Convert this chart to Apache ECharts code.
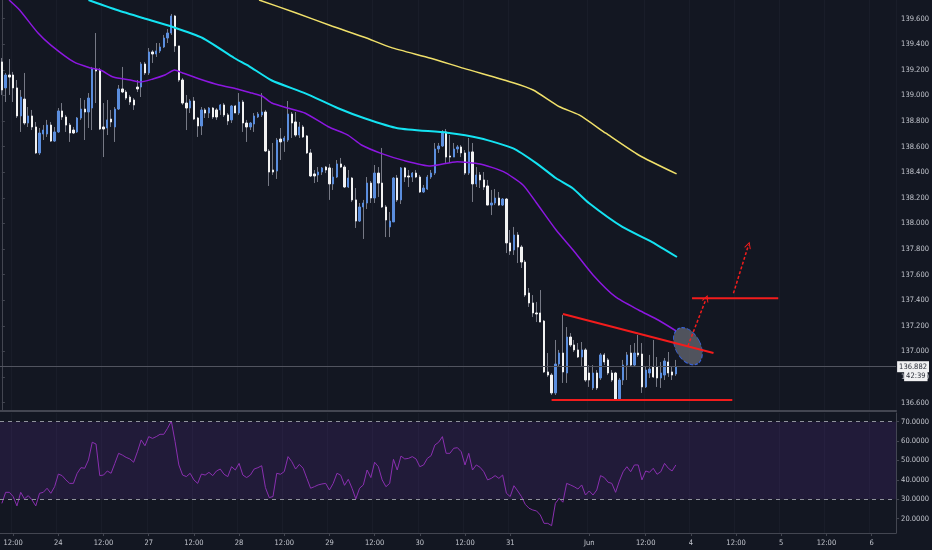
<!DOCTYPE html>
<html><head><meta charset="utf-8">
<script src="https://cdn.jsdelivr.net/npm/echarts@6/dist/echarts.min.js"></script>
<style>html,body{margin:0;padding:0;background:#131722;}#c{width:932px;height:550px;}</style>
</head><body><div id="c"></div><script>
// ---- data ----
// hourly candles [open, close, low, high]
const candles = [
[139.261,139.042,139.003,139.292],[139.058,139.159,138.948,139.175],[139.159,139.143,139.003,139.284],[139.159,139.058,138.948,139.183],[139.058,138.839,138.823,139.120],
[138.839,138.987,138.714,139.042],[138.971,138.784,138.768,139.175],[138.784,138.839,138.753,138.909],[138.839,138.753,138.729,138.886],[138.753,138.550,138.542,138.792],
[138.550,138.706,138.534,138.745],[138.698,138.729,138.651,138.768],[138.698,138.768,138.675,138.808],[138.768,138.643,138.636,138.792],[138.643,138.714,138.636,138.753],
[138.714,138.878,138.706,138.901],[138.878,138.831,138.808,138.940],[138.831,138.768,138.714,138.847],[138.768,138.706,138.636,138.784],[138.729,138.706,138.698,138.753],
[138.714,138.823,138.706,138.831],[138.823,138.893,138.808,138.979],[138.893,138.870,138.651,138.964],[138.870,138.979,138.745,139.018],[138.901,139.206,138.729,139.222],
[139.206,139.190,138.940,139.487],[139.198,138.737,138.729,139.214],[138.753,138.737,138.518,138.940],[138.745,138.808,138.690,138.964],[138.815,138.792,138.753,138.886],
[138.753,138.893,138.636,138.909],[138.893,139.050,138.886,139.081],[139.050,139.026,139.018,139.222],[139.026,138.979,138.964,139.042],[138.987,138.948,138.925,139.003],
[138.964,138.925,138.886,138.979],[139.065,139.050,139.026,139.120],[139.065,139.245,138.987,139.261],[139.245,139.175,139.159,139.261],[139.175,139.339,139.159,139.370],
[139.339,139.323,139.253,139.354],[139.323,139.347,139.300,139.409],[139.347,139.378,139.331,139.409],[139.378,139.448,139.370,139.472],[139.448,139.487,139.409,139.518],
[139.487,139.620,139.472,139.636],[139.620,139.386,139.339,139.628],[139.386,139.120,139.105,139.386],[139.120,138.940,138.925,139.136],[138.940,138.901,138.729,139.003],
[138.901,138.956,138.862,138.971],[138.956,138.815,138.808,138.987],[138.823,138.761,138.675,138.831],[138.761,138.886,138.690,138.909],[138.886,138.862,138.823,138.901],
[138.862,138.901,138.823,138.909],[138.901,138.831,138.815,138.909],[138.886,138.831,138.808,138.901],[138.886,138.925,138.847,138.932],[138.925,138.847,138.831,138.940],
[138.847,138.800,138.768,138.862],[138.808,138.917,138.784,138.925],[138.917,138.862,138.862,138.925],[138.862,138.948,138.847,139.018],[138.948,138.784,138.714,138.964],
[138.784,138.753,138.636,138.808],[138.753,138.784,138.729,138.792],[138.776,138.839,138.714,138.862],[138.831,138.854,138.823,138.870],[138.847,138.870,138.831,139.018],
[138.870,138.565,138.558,138.886],[138.565,138.401,138.292,138.581],[138.417,138.401,138.378,138.628],[138.409,138.651,138.347,138.667],[138.659,138.636,138.495,138.745],
[138.643,138.667,138.558,138.683],[138.651,138.854,138.636,138.956],[138.854,138.784,138.667,138.870],[138.792,138.690,138.675,138.870],[138.690,138.753,138.667,138.792],
[138.753,138.675,138.667,138.768],[138.683,138.550,138.542,138.690],[138.550,138.370,138.362,138.581],[138.386,138.370,138.315,138.417],[138.378,138.401,138.323,138.440],
[138.401,138.433,138.378,138.440],[138.440,138.417,138.393,138.448],[138.433,138.308,138.183,138.464],[138.308,138.362,138.261,138.433],[138.362,138.464,138.354,138.495],
[138.464,138.440,138.433,138.511],[138.440,138.284,138.276,138.456],[138.284,138.354,138.276,138.417],[138.354,138.183,138.167,138.362],[138.183,138.018,137.964,138.276],
[138.018,138.128,138.011,138.159],[138.128,138.159,137.878,138.183],[138.159,138.315,138.112,138.362],[138.315,138.198,138.159,138.331],[138.198,138.393,138.159,138.456],
[138.393,138.315,138.206,138.440],[138.315,138.128,138.120,138.589],[138.128,138.026,137.893,138.143],[137.972,138.018,137.893,138.089],[138.011,138.354,138.011,138.362],
[138.354,138.183,138.167,138.378],[138.183,138.433,138.151,138.440],[138.433,138.362,138.323,138.440],[138.370,138.362,138.284,138.417],[138.362,138.393,138.323,138.401],
[138.393,138.362,138.354,138.417],[138.362,138.245,138.237,138.378],[138.245,138.276,138.237,138.300],[138.268,138.362,138.261,138.378],[138.362,138.393,138.347,138.417],
[138.393,138.581,138.378,138.628],[138.581,138.604,138.550,138.628],[138.604,138.714,138.597,138.729],[138.714,138.518,138.472,138.737],[138.526,138.518,138.472,138.690],
[138.518,138.581,138.518,138.628],[138.581,138.597,138.550,138.612],[138.597,138.550,138.518,138.612],[138.550,138.393,138.378,138.573],[138.393,138.558,138.378,138.667],
[138.558,138.308,138.167,138.628],[138.308,138.378,138.284,138.440],[138.378,138.339,138.276,138.401],[138.339,138.284,138.261,138.401],[138.292,138.143,138.143,138.339],
[138.143,138.159,138.065,138.261],[138.159,138.198,138.143,138.268],[138.198,138.143,138.136,138.245],[138.143,138.190,138.136,138.198],[138.190,137.847,137.768,138.198],
[137.847,137.784,137.753,137.948],[137.792,137.909,137.753,137.972],[137.909,137.815,137.690,137.932],[137.815,137.698,137.651,137.831],[137.698,137.440,137.425,137.714],
[137.456,137.378,137.347,137.495],[137.378,137.300,137.268,137.440],[137.300,137.292,137.229,137.386],[137.300,137.229,137.229,137.479],[137.237,136.839,136.831,137.245],
[136.839,136.815,136.800,136.987],[136.815,136.675,136.659,136.831],[136.675,136.901,136.659,137.089],[136.901,136.987,136.878,137.011],[136.987,136.839,136.753,137.284],
[136.831,137.112,136.753,137.190],[137.112,137.050,137.034,137.143],[137.050,137.011,136.995,137.089],[137.011,136.956,136.948,137.065],[136.956,137.011,136.878,137.073],
[137.011,136.776,136.761,137.026],[136.831,136.776,136.722,136.893],[136.714,136.831,136.698,136.893],[136.831,136.714,136.698,136.854],[136.792,136.972,136.776,136.987],
[136.972,136.917,136.893,136.987],[136.933,136.831,136.815,136.948],[136.831,136.776,136.761,136.854],[136.831,136.628,136.620,136.839],[136.628,136.776,136.620,136.792],
[136.776,136.893,136.737,136.933],[136.893,136.972,136.776,136.995],[136.987,136.893,136.878,137.050],[136.893,136.987,136.878,137.065],[136.987,136.972,136.956,137.128],
[136.979,136.722,136.675,137.065],[136.722,136.854,136.714,136.878],[136.831,136.862,136.792,136.972],[136.878,136.800,136.792,137.089],[136.878,136.792,136.722,136.956],
[136.792,136.831,136.714,136.917],[136.815,136.925,136.776,136.948],[136.917,136.831,136.800,136.995],[136.839,136.815,136.776,136.878],[136.823,136.882,136.808,136.933]
];
// RSI, one value per candle
const rsi = [
27.9,33.6,33.6,31.4,26.6,33.6,30.2,31.9,29.7,26.6,
33.1,33.6,35.7,33.1,36.5,43.0,42.2,40.0,38.2,38.2,
43.4,46.3,46.0,50.3,59.4,58.5,42.2,42.5,44.6,43.4,
48.5,53.7,52.8,51.6,50.8,49.1,54.5,60.6,57.6,62.3,
61.4,62.3,63.5,63.5,66.6,70.3,59.7,47.7,42.5,41.7,
43.4,40.0,38.2,43.0,42.5,43.9,42.2,44.6,45.6,42.9,
41.7,46.8,45.1,48.5,42.5,41.2,42.5,45.6,46.3,47.3,
36.0,30.9,31.4,43.4,42.9,44.3,52.0,49.4,45.6,48.0,
46.0,40.8,35.7,36.5,37.4,37.9,38.2,34.8,38.2,43.4,
42.4,37.2,40.3,35.7,30.2,35.7,37.4,45.1,41.2,49.1,
46.8,40.0,36.5,38.2,50.6,45.1,52.3,50.8,51.1,52.0,
50.8,46.8,47.7,51.1,52.5,58.0,59.4,62.3,53.7,53.7,
56.3,56.6,54.5,47.7,53.7,45.1,47.7,46.5,44.2,40.0,
40.8,42.2,40.8,42.5,33.1,31.4,37.0,34.3,31.4,27.4,
25.4,24.5,24.0,21.9,17.6,17.6,16.4,27.9,30.5,28.5,
38.2,37.4,36.5,35.3,37.4,32.2,34.3,32.2,34.8,42.2,
41.2,38.8,38.2,33.6,39.4,44.2,46.8,44.2,47.7,47.7,
40.0,44.6,43.9,46.0,42.9,44.2,48.5,46.0,44.6,47.7
];
// moving averages: [candle index, price]
const maPurple = [[1.9,139.745],[4.7,139.667],[9.6,139.487],[13.0,139.393],[19.1,139.261],[23.5,139.214],[26.2,139.198],[29.6,139.143],[34.1,139.120],[36.7,139.104],[40.1,139.128],[43.3,139.159],[45.9,139.198],[48.0,139.175],[52.5,139.128],[57.7,139.081],[62.5,139.050],[66.4,139.018],[69.1,138.995],[71.7,138.940],[76.2,138.899],[80.6,138.860],[86.7,138.755],[91.9,138.690],[95.5,138.612],[100.7,138.547],[106.9,138.490],[113.9,138.448],[120.9,138.482],[127.0,138.464],[133.2,138.404],[138.4,138.300],[142.0,138.159],[147.2,137.948],[151.7,137.792],[157.0,137.597],[163.0,137.425],[169.1,137.323],[174.3,137.245],[179.1,137.159]];
const maCyan = [[23.0,139.745],[30.6,139.667],[37.5,139.604],[45.4,139.534],[53.3,139.448],[61.7,139.292],[65.6,139.229],[71.7,139.116],[80.6,139.016],[89.3,138.899],[96.3,138.821],[105.1,138.743],[118.3,138.708],[127.0,138.665],[135.8,138.586],[142.0,138.469],[147.2,138.352],[151.6,138.274],[155.9,138.159],[164.8,137.972],[172.7,137.854],[179.3,137.737]];
const maYellow = [[68.3,139.745],[78.0,139.646],[87.6,139.542],[96.3,139.454],[103.3,139.375],[113.9,139.290],[122.7,139.211],[135.8,139.099],[141.1,139.042],[148.1,138.911],[153.3,138.847],[160.4,138.704],[169.1,138.534],[179.2,138.386]];
// time axis
const NCAT = 238;
const tickIdx  = [3,15,27,39,51,63,75,87,99,111,123,135,156,171,183,195,207,219,231];
const tickText = ['12:00','24','12:00','27','12:00','28','12:00','29','12:00','30','12:00','31','Jun','12:00','4','12:00','5','12:00','6'];
const priceTicks = [136.6,136.8,137.0,137.2,137.4,137.6,137.8,138.0,138.2,138.4,138.6,138.8,139.0,139.2,139.4,139.6];
const rsiTicks = [20,30,40,50,60,70];
const lastPrice = 136.882;
const countdown = '42:39';
// drawings
const trendLine = [[149,137.292],[189,136.987]];
const supportLine = [[146,136.62],[194,136.62]];
const targetLine = [[183.3,137.415],[206.2,137.415]];
const arrow1 = [[182.2,137.042],[187.1,137.415]];
const arrow2 = [[194.3,137.454],[198.3,137.831]];
const ellipseAt = [182.2,137.04];

// ---- chart ----
const FONT = "'Liberation Sans Narrow','DejaVu Sans Condensed','Liberation Sans',sans-serif";
const C = {bg:'#131722', axis:'#434651', text:'#c3c6ce', wick:'#767985', up:'#5b8ede', down:'#f2f2f2', red:'#f31c1c', grid:'#191d29'};
const tickSet = new Set(tickIdx);
const labelAt = {}; tickIdx.forEach((k,j)=>{labelAt[k]=tickText[j];});
const categories = Array.from({length:NCAT},(_,i)=>String(i));
const bodies = candles.map(([o,c])=>[o,c,Math.min(o,c),Math.max(o,c)]);
const chevron = 'path://M0,10 L5,0 L10,10 L8.4,10 L5,3.2 L1.6,10 Z';
const redLine = (data)=>({type:'line', xAxisIndex:2, yAxisIndex:0, data, symbol:'none', silent:true, z:6,
  lineStyle:{color:C.red, width:2}});
const maLine = (data, color, width)=>({type:'line', xAxisIndex:2, yAxisIndex:0, data, smooth:0.2,
  symbol:'none', z:4, silent:true, lineStyle:{color, width}});

const chart = echarts.init(document.getElementById('c'));
chart.setOption({
  backgroundColor: C.bg,
  animation: false,
  textStyle: {fontFamily: FONT},
  grid: [
    {left:-1.3, right:28.9, top:0, height:411},
    {left:-1.3, right:28.9, top:413, height:120}
  ],
  xAxis: [
    {type:'category', gridIndex:0, data:categories, boundaryGap:true,
     axisLine:{show:true, lineStyle:{color:C.axis, width:2}}, axisTick:{show:false}, axisLabel:{show:false},
     splitLine:{show:true, interval:(i)=>tickSet.has(i), lineStyle:{color:C.grid}}},
    {type:'category', gridIndex:1, data:categories, boundaryGap:true,
     axisLine:{show:true, lineStyle:{color:C.axis}},
     axisTick:{show:true, alignWithLabel:true, interval:(i)=>tickSet.has(i), length:3, lineStyle:{color:C.axis}},
     axisLabel:{show:true, interval:(i)=>tickSet.has(i), formatter:(v,i)=>labelAt[i]||'', color:C.text, fontSize:7.5, margin:6, fontFamily:FONT},
     splitLine:{show:true, interval:(i)=>tickSet.has(i), lineStyle:{color:C.grid}}},
    {type:'value', gridIndex:0, min:-0.5, max:NCAT-0.5, show:false}
  ],
  yAxis: [
    {type:'value', gridIndex:0, position:'right', min:136.534, max:139.745,
     axisLine:{show:true, lineStyle:{color:C.axis}},
     axisTick:{show:true, customValues:priceTicks, length:3, lineStyle:{color:C.axis}},
     axisLabel:{customValues:priceTicks, formatter:(v)=>v.toFixed(3), color:C.text, fontSize:7.5, margin:5, fontFamily:FONT},
     splitLine:{show:false}},
    {type:'value', gridIndex:1, position:'right', min:12.63, max:74.48,
     axisLine:{show:true, lineStyle:{color:C.axis}},
     axisTick:{show:true, customValues:rsiTicks, length:3, lineStyle:{color:C.axis}},
     axisLabel:{customValues:rsiTicks, formatter:(v)=>v.toFixed(4), color:C.text, fontSize:7.5, margin:5, fontFamily:FONT},
     splitLine:{show:false}}
  ],
  series: [
    {type:'candlestick', xAxisIndex:0, yAxisIndex:0, data:candles, barWidth:1, z:2, silent:true,
     itemStyle:{color:C.wick, color0:C.wick, borderColor:C.wick, borderColor0:C.wick, borderWidth:1},
     markLine:{silent:true, symbol:['none','none'], z:8,
       label:{position:'end', backgroundColor:'#f0f0f2', color:'#2a2e39', fontSize:7.5, fontFamily:FONT, padding:[2,2,1,2]},
       data:[
         {yAxis:lastPrice, lineStyle:{color:'#51545f', width:1, type:'solid'}, label:{formatter:lastPrice.toFixed(3), distance:1}},
         {yAxis:lastPrice-0.075, lineStyle:{color:'rgba(0,0,0,0)', width:0}, label:{formatter:countdown, distance:8}}
       ]}},
    {type:'candlestick', xAxisIndex:0, yAxisIndex:0, data:bodies, barWidth:1.8, z:3, silent:true,
     itemStyle:{color:C.up, color0:C.down, borderColor:C.up, borderColor0:C.down, borderWidth:1}},
    maLine(maYellow, '#f0e06a', 1.5),
    maLine(maCyan, '#14e3f2', 2),
    maLine(maPurple, '#8c17e0', 1.5),
    {type:'scatter', xAxisIndex:2, yAxisIndex:0, data:[ellipseAt], symbol:'circle', symbolSize:[25,40], symbolRotate:28, z:5, silent:true,
     itemStyle:{color:'rgba(100,102,112,0.95)', borderColor:'#3a6cff', borderType:'dashed', borderWidth:1}},
    redLine(trendLine),
    redLine(targetLine),
    Object.assign(redLine(supportLine), {
      markLine:{silent:true, symbol:['none',chevron], symbolSize:[7,7], label:{show:false}, z:7,
        lineStyle:{color:C.red, width:1.5, type:[3,2]},
        data:[
          [{coord:arrow1[0]},{coord:arrow1[1]}],
          [{coord:arrow2[0]},{coord:arrow2[1]}]
        ]}
    }),
    {type:'line', xAxisIndex:1, yAxisIndex:1, data:rsi, symbol:'none', z:3, silent:true,
     lineStyle:{color:'#8a2fb0', width:1},
     markLine:{silent:true, symbol:['none','none'], label:{show:false},
       lineStyle:{color:'#8f929b', width:1, type:[4,4]},
       data:[{yAxis:70},{yAxis:30}]},
     markArea:{silent:true, itemStyle:{color:'rgba(120,60,200,0.14)'},
       data:[[{yAxis:30},{yAxis:70}]]}}
  ]
});
</script></body></html>
